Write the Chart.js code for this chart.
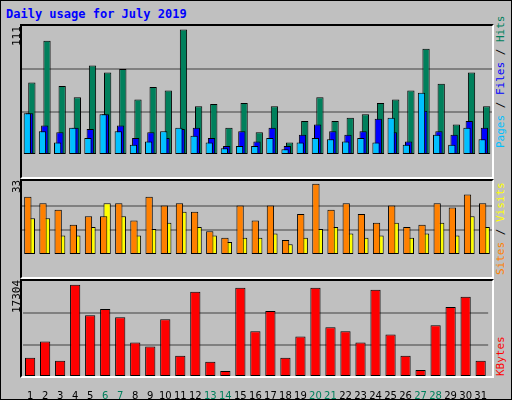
<!DOCTYPE html>
<html>
<head>
<meta charset="utf-8">
<script src="https://cdn.jsdelivr.net/npm/chart.js@4"></script>
<style>
  body { margin: 0; background: #c0c0c0; }
  #frame { position: absolute; left: 0; top: 0; width: 510px; height: 398px; border: 1px solid #000; background: #c0c0c0; }
  .panel { position: absolute; left: 20px; width: 470px; border-top: 2px solid #000; border-left: 2px solid #000; border-right: 2px solid #fff; border-bottom: 2px solid #fff; }
  canvas { position: absolute; left: 22px; }
  .title { position: absolute; left: 6px; top: 7px; font: bold 12px "DejaVu Sans Mono", monospace; color: #0000ff; }
  .vl { position: absolute; font: 11px "DejaVu Sans Mono", monospace; white-space: nowrap; transform: rotate(-90deg); transform-origin: left top; }
</style>
</head>
<body>
<div id="frame"></div>
<div class="title">Daily usage for July 2019</div>
<div class="panel" style="top:24px;height:151px"></div>
<div class="panel" style="top:179px;height:96px"></div>
<div class="panel" style="top:279px;height:95px"></div>
<canvas id="c1" width="470" height="151" style="top:26px"></canvas>
<canvas id="c2" width="470" height="96" style="top:181px"></canvas>
<canvas id="c3" width="470" height="118" style="top:281px"></canvas>
<div class="vl" style="left:10px;top:46px">111</div>
<div class="vl" style="left:10px;top:193px">33</div>
<div class="vl" style="left:10px;top:313px">17304</div>
<div class="vl" style="left:494px;top:148px"><span style="color:#00c0ff">Pages</span><span style="color:#000"> / </span><span style="color:#0000ff">Files</span><span style="color:#000"> / </span><span style="color:#00805c">Hits</span></div>
<div class="vl" style="left:494px;top:275px"><span style="color:#ff8000">Sites</span><span style="color:#000"> / </span><span style="color:#ffff00">Visits</span></div>
<div class="vl" style="left:494px;top:376px"><span style="color:#ff0000">KBytes</span></div>
<script>
const days = ['1','2','3','4','5','6','7','8','9','10','11','12','13','14','15','16','17','18','19','20','21','22','23','24','25','26','27','28','29','30','31'];
const weekends = ['6','7','13','14','20','21','27','28'];

const hits = [64, 101, 61, 51, 79, 73, 76, 49, 60, 57, 111, 43, 45, 24, 46, 20, 43, 11, 30, 51, 30, 33, 36, 46, 49, 57, 94, 63, 27, 73, 43];
const files = [37, 26, 20, 24, 23, 36, 26, 15, 20, 15, 23, 24, 15, 8, 21, 12, 24, 8, 18, 27, 21, 18, 21, 32, 20, 12, 39, 21, 18, 30, 24];
const pages = [37, 21, 11, 24, 15, 36, 21, 9, 12, 21, 24, 17, 11, 6, 8, 8, 15, 5, 11, 15, 14, 12, 15, 11, 33, 9, 55, 18, 9, 24, 14];

const sites = [17, 17, 9, 9, 13, 24, 18, 9, 12, 15, 20, 13, 9, 6, 8, 8, 10, 5, 8, 12, 13, 10, 8, 9, 15, 8, 10, 15, 9, 18, 13];
const visits = [27, 24, 21, 14, 18, 18, 24, 16, 27, 23, 24, 20, 11, 8, 23, 16, 23, 7, 19, 33, 21, 24, 19, 15, 23, 13, 14, 24, 22, 28, 24];

const kbytes = [3613, 6657, 3043, 17304, 11600, 12740, 11220, 6466, 5706, 10840, 3994, 15980, 2853, 1141, 16740, 8560, 12360, 3613, 7608, 16740, 9320, 8560, 6466, 16360, 7990, 3994, 1331, 9700, 13120, 15030, 3043];

const makeChart = (id, datasets, max, showX) => {
    return new Chart(document.getElementById(id), {
        type: 'bar',
        data: { labels: days, datasets: datasets },
        options: {
            responsive: false,
            animation: false,
            devicePixelRatio: 1,
            layout: { padding: 0 },
            plugins: { legend: { display: false }, tooltip: { enabled: false } },
            scales: {
                x: {
                    display: showX,
                    grid: { display: false },
                    border: { display: false },
                    ticks: {
                        padding: 5,
                        maxRotation: 0,
                        autoSkip: false,
                        font: { family: 'DejaVu Sans', size: 10 },
                        color: ctx => weekends.includes(days[ctx.index]) ? '#00805c' : '#000'
                    },
                    afterFit: s => { s.height = 22; }
                },
                y: {
                    display: true,
                    min: 0,
                    max: max,
                    border: { display: false },
                    ticks: { display: false, stepSize: max / 3 },
                    grid: {
                        color: ctx => (ctx.index === 1 || ctx.index === 2) ? '#808080' : 'rgba(0,0,0,0)',
                        lineWidth: 2,
                        drawTicks: false
                    },
                    afterFit: s => { s.width = 0; }
                }
            }
        }
    });
};

// lower order is drawn on top
const bar = (data, color, cp, bp, order) => ({
    data: data,
    backgroundColor: color,
    borderColor: '#000',
    borderWidth: 1,
    borderSkipped: false,
    categoryPercentage: cp,
    barPercentage: bp,
    order: order
});

makeChart('c1', [
    bar(hits, '#00805c', 0.45, 3.2, 3),
    bar(files, '#0000ff', 0.45, 3.2, 2),
    bar(pages, '#00c0ff', 0.45, 3.2, 1)
], 114, false);

makeChart('c2', [
    bar(sites, '#ffff00', 0.46, 2.1, 2),
    bar(visits, '#ff8000', 0.46, 2.1, 1)
], 34.3, false);

makeChart('c3', [
    bar(kbytes, '#ff0000', 1, 0.68, 1)
], 18000, true);
</script>
</body>
</html>
